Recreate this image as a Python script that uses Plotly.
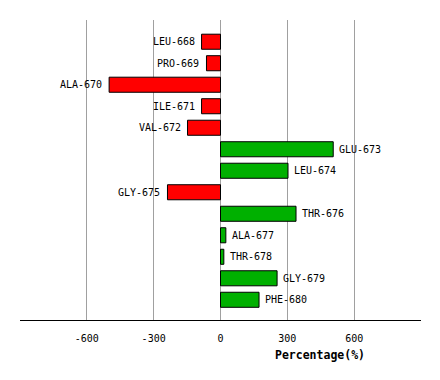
import plotly.graph_objects as go

residues = ["LEU-668", "PRO-669", "ALA-670", "ILE-671", "VAL-672", "GLU-673",
            "LEU-674", "GLY-675", "THR-676", "ALA-677", "THR-678", "GLY-679", "PHE-680"]
values = [-85, -63, -500, -85, -148, 506, 303, -238, 339, 24, 15, 254, 173]
tick_vals = [-600, -300, 0, 300, 600]
tick_text = ["-600", "-300", "0", "300", "600"]

colors = ["#00B000" if v > 0 else "#FF0000" for v in values]

fig = go.Figure(go.Bar(
    x=values, y=residues, orientation="h",
    marker=dict(color=colors, line=dict(color="black", width=1)),
))

label_annotations = [
    dict(x=v, y=r, xref="x", yref="y", text=r, showarrow=False,
         xanchor="left" if v > 0 else "right", yanchor="middle",
         xshift=4 if v > 0 else -5,
         font=dict(family="DejaVu Sans Mono", size=10, color="black"))
    for r, v in zip(residues, values)
]

fig.update_layout(
    width=432, height=372,
    margin=dict(l=12, r=19, t=12, b=60, autoexpand=False),
    plot_bgcolor="white", paper_bgcolor="white",
    bargap=0.3, showlegend=False,
    font=dict(family="DejaVu Sans Mono", size=10, color="black"),
    xaxis=dict(range=[-900, 900], tickvals=tick_vals, ticktext=tick_text,
               showgrid=True, gridcolor="#A0A0A0", gridwidth=1, zeroline=False,
               showline=True, linecolor="black", linewidth=1,
               ticks="outside", ticklen=9, tickcolor="rgba(0,0,0,0)",
               tickfont=dict(family="DejaVu Sans Mono", size=10, color="black")),
    yaxis=dict(categoryorder="array", categoryarray=residues,
               range=[12.94, -1.01], showticklabels=False, showgrid=False,
               zeroline=False, showline=False),
    annotations=label_annotations + [
        dict(text="<b>Percentage(%)</b>", x=0.748, y=-0.117,
             xref="paper", yref="paper", showarrow=False,
             xanchor="center", yanchor="middle",
             font=dict(family="DejaVu Sans Mono", size=11.5, color="black"))],
)

fig.write_html("out.html")
